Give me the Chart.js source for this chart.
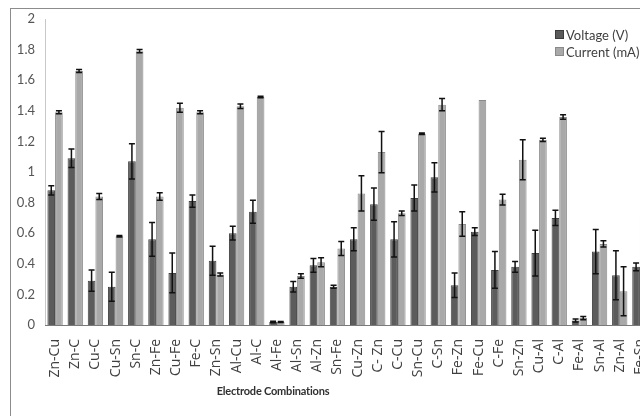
<!DOCTYPE html>
<html>
<head>
<meta charset="utf-8">
<script src="https://cdn.jsdelivr.net/npm/chart.js@4.4.1/dist/chart.umd.min.js"></script>
<style>
  html, body { margin: 0; padding: 0; width: 640px; height: 416px; overflow: hidden; background: #fff; }
  #frame { position: absolute; left: 10px; top: 8px; width: 720px; height: 500px;
           border-left: 1px solid #8c8c8c; border-top: 1px solid #8c8c8c; }
  #grafico { position: absolute; left: 0; top: 0; }
  .legenda { position: absolute; left: 555px; top: 27px; font: 13px Lato, sans-serif; color: #404040; line-height: 17px; }
  .legenda span.caixa { display: inline-block; width: 7px; height: 7px; margin-right: 2px; vertical-align: 1px; }
  #tituloX { position: absolute; left: 173px; width: 200px; top: 384px; text-align: center;
             font: bold 11px Lato, sans-serif; letter-spacing: -0.2px; color: #303030; }
</style>
</head>
<body>
<div id="frame"></div>
<canvas id="grafico" width="680" height="416"></canvas>
<div class="legenda">
  <div><span class="caixa" style="background:#5a5a5a;border:1px solid #3c3c3c"></span>Voltage (V)</div>
  <div><span class="caixa" style="background:#a9a9a9;border:1px solid #8a8a8a"></span>Current (mA)</div>
</div>
<div id="tituloX">Electrode Combinations</div>

<script>
const combinacoes = ["Zn-Cu", "Zn-C", "Cu-C", "Cu-Sn", "Sn-C", "Zn-Fe", "Cu-Fe", "Fe-C", "Zn-Sn", "Al-Cu",
    "Al-C", "Al-Fe", "Al-Sn", "Al-Zn", "Sn-Fe", "Cu-Zn", "C- Zn", "C-Cu", "Sn-Cu", "C-Sn",
    "Fe-Zn", "Fe-Cu", "C-Fe", "Sn-Zn", "Cu-Al", "C-Al", "Fe-Al", "Sn-Al", "Zn-Al", "Fe-Sn"];

const tensao = [0.88, 1.09, 0.29, 0.25, 1.07, 0.56, 0.34, 0.81, 0.42, 0.60,
    0.74, 0.02, 0.25, 0.39, 0.25, 0.56, 0.79, 0.56, 0.83, 0.965,
    0.26, 0.61, 0.36, 0.38, 0.47, 0.70, 0.03, 0.48, 0.325, 0.38];
const erroTensao = [0.03, 0.06, 0.07, 0.095, 0.115, 0.11, 0.13, 0.04, 0.095, 0.045,
    0.075, 0.005, 0.035, 0.045, 0.01, 0.075, 0.105, 0.115, 0.085, 0.095,
    0.08, 0.025, 0.12, 0.035, 0.15, 0.05, 0.01, 0.145, 0.16, 0.025];

const corrente = [1.39, 1.66, 0.84, 0.58, 1.79, 0.84, 1.42, 1.39, 0.33, 1.43,
    1.49, 0.02, 0.32, 0.41, 0.50, 0.86, 1.13, 0.73, 1.25, 1.44,
    0.66, 1.47, 0.82, 1.08, 1.21, 1.36, 0.045, 0.53, 0.22, 0.73];
const erroCorrente = [0.01, 0.01, 0.02, 0.005, 0.01, 0.025, 0.03, 0.01, 0.01, 0.015,
    0.005, 0.003, 0.015, 0.03, 0.045, 0.115, 0.135, 0.015, 0.005, 0.04,
    0.08, 0, 0.035, 0.13, 0.01, 0.015, 0.01, 0.02, 0.16, 0.09];

const ticksY = [0, 0.2, 0.4, 0.6, 0.8, 1, 1.2, 1.4, 1.6, 1.8, 2];

// Plugin simples para desenhar as barras de erro
const barrasDeErro = {
    id: "barrasDeErro",
    afterDatasetsDraw(chart) {
        const ctx = chart.ctx;
        const escalaY = chart.scales.y;
        ctx.save();
        ctx.strokeStyle = "#111";
        ctx.lineWidth = 1.5;
        chart.data.datasets.forEach((ds, i) => {
            const meta = chart.getDatasetMeta(i);
            meta.data.forEach((barra, j) => {
                const e = ds.erros[j];
                if (!e) return;
                const yAlto = escalaY.getPixelForValue(ds.data[j] + e);
                const yBaixo = escalaY.getPixelForValue(ds.data[j] - e);
                const x = barra.x;
                ctx.beginPath();
                ctx.moveTo(x, yAlto); ctx.lineTo(x, yBaixo);
                ctx.moveTo(x - 3, yAlto); ctx.lineTo(x + 3, yAlto);
                ctx.moveTo(x - 3, yBaixo); ctx.lineTo(x + 3, yBaixo);
                ctx.stroke();
            });
        });
        ctx.restore();
    }
};

new Chart(document.getElementById("grafico").getContext("2d"), {
    type: "bar",
    data: {
        labels: combinacoes,
        datasets: [{
            label: "Voltage (V)",
            data: tensao,
            erros: erroTensao,
            backgroundColor: "#5c5c5c",
            borderColor: "#404040",
            borderWidth: 1,
            categoryPercentage: 0.76,
            barPercentage: 1.0
        }, {
            label: "Current (mA)",
            data: corrente,
            erros: erroCorrente,
            backgroundColor: "#a9a9a9",
            borderColor: "#8a8a8a",
            borderWidth: 1,
            categoryPercentage: 0.76,
            barPercentage: 1.0
        }]
    },
    options: {
        responsive: false,
        animation: false,
        devicePixelRatio: 1,
        layout: { padding: { top: 19, right: 30, left: 0, bottom: 0 } },
        plugins: {
            legend: { display: false },
            tooltip: { enabled: false }
        },
        scales: {
            y: {
                min: 0,
                max: 2,
                afterBuildTicks: (escala) => { escala.ticks = ticksY.map(v => ({ value: v })); },
                afterFit: (escala) => { escala.width = 45; },
                grid: { display: false, drawTicks: false },
                border: { color: "#c8c8c8" },
                ticks: {
                    padding: 10,
                    color: "#555",
                    font: { family: "Lato", size: 13 },
                    callback: (valor) => String(Math.round(valor * 10) / 10)
                }
            },
            x: {
                afterFit: (escala) => { escala.height = 91; },
                grid: { display: false, drawTicks: false },
                border: { color: "#7a7a7a" },
                ticks: {
                    autoSkip: false,
                    minRotation: 90,
                    maxRotation: 90,
                    padding: 14,
                    color: "#404040",
                    font: { family: "Open Sans", size: 14 }
                }
            }
        }
    },
    plugins: [barrasDeErro]
});
</script>
</body>
</html>
